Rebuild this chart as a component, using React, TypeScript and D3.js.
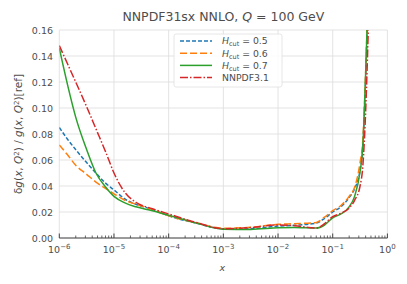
import React from "react";
import * as d3 from "d3";

const xLog = [-6, -5.85, -5.7, -5.5, -5.33, -5.15, -5.0, -4.8, -4.6, -4.3, -4.0, -3.5, -3.0, -2.5, -2.0, -1.7, -1.3, -1.15, -1.0, -0.85, -0.7, -0.6, -0.5, -0.45, -0.4, -0.35, -0.3, -0.25];
const hcut05 = [0.085, 0.076, 0.068, 0.058, 0.050, 0.042, 0.037, 0.030, 0.026, 0.022, 0.017, 0.0115, 0.007, 0.0072, 0.0092, 0.0098, 0.0115, 0.015, 0.020, 0.024, 0.031, 0.038, 0.052, 0.07, 0.12, 0.19, 0.27, 0.37];
const hcut06 = [0.0715, 0.064, 0.056, 0.049, 0.043, 0.038, 0.034, 0.029, 0.026, 0.022, 0.017, 0.0118, 0.0075, 0.0082, 0.0105, 0.011, 0.012, 0.016, 0.021, 0.025, 0.032, 0.039, 0.058, 0.075, 0.125, 0.195, 0.28, 0.38];
const hcut07 = [0.146, 0.118, 0.093, 0.068, 0.050, 0.039, 0.032, 0.027, 0.024, 0.021, 0.0175, 0.0115, 0.0068, 0.0066, 0.0078, 0.008, 0.0076, 0.010, 0.0155, 0.0185, 0.024, 0.032, 0.051, 0.07, 0.124, 0.19, 0.26, 0.36];
const nnpdf31 = [0.148, 0.134, 0.120, 0.101, 0.084, 0.066, 0.050, 0.035, 0.0275, 0.0225, 0.0185, 0.012, 0.0072, 0.008, 0.010, 0.0095, 0.0076, 0.011, 0.0165, 0.019, 0.023, 0.029, 0.040, 0.055, 0.095, 0.16, 0.25, 0.35];

const yTicks = [0, 0.02, 0.04, 0.06, 0.08, 0.1, 0.12, 0.14, 0.16];
const xTickExps = [-6, -5, -4, -3, -2, -1, 0];

const series = [
  { label: "0.5", values: hcut05, color: "#1f77b4", dash: "4,2" },
  { label: "0.6", values: hcut06, color: "#ff7f0e", dash: "7,3" },
  { label: "0.7", values: hcut07, color: "#2ca02c", dash: "" },
  { label: "NNPDF3.1", values: nnpdf31, color: "#d62728", dash: "8,2,1.5,2" },
];

const W = 407, H = 284;
const left = 59.3, right = 387.4, top = 30, bottom = 238;
const font = "DejaVu Sans, sans-serif";
const textCol = "#4d4d4d";

export default function App() {
  const x = d3.scaleLog().domain([1e-6, 1]).range([left, right]);
  const y = d3.scaleLinear().domain([0, 0.16]).range([bottom, top]);
  const line = d3.line<[number, number]>()
    .x(d => x(Math.pow(10, d[0])))
    .y(d => y(d[1]))
    .curve(d3.curveMonotoneX);

  const minor: number[] = [];
  for (let e = -6; e < 0; e++) for (let m = 2; m <= 9; m++) minor.push(m * Math.pow(10, e));

  const legendX = 174, legendY = 34;
  return (
    <svg width={W} height={H} style={{ position: "absolute", left: 0, top: 0, fontFamily: font }}>
      <rect x={0} y={0} width={W} height={H} fill="#fff" />
      <defs>
        <clipPath id="plotclip"><rect x={left} y={top} width={right - left} height={bottom - top} /></clipPath>
      </defs>
      {yTicks.map(t => (
        <line key={"gy" + t} x1={left} x2={right} y1={y(t)} y2={y(t)} stroke="#dcdcdc" strokeWidth={0.8} />
      ))}
      {xTickExps.map(e => (
        <line key={"gx" + e} x1={x(Math.pow(10, e))} x2={x(Math.pow(10, e))} y1={top} y2={bottom} stroke="#dcdcdc" strokeWidth={0.8} />
      ))}
      <g clipPath="url(#plotclip)">
        {series.map(s => (
          <path key={s.label} d={line(xLog.map((v, i) => [v, s.values[i]] as [number, number])) || ""}
            fill="none" stroke={s.color} strokeWidth={1.5} strokeDasharray={s.dash || undefined} />
        ))}
      </g>
      <line x1={left} x2={right} y1={bottom} y2={bottom} stroke="#444" strokeWidth={1} />
      {xTickExps.map(e => (
        <line key={"tx" + e} x1={x(Math.pow(10, e))} x2={x(Math.pow(10, e))} y1={bottom} y2={bottom - 4.5} stroke="#444" strokeWidth={1} />
      ))}
      {minor.map((m, i) => (
        <line key={"mx" + i} x1={x(m)} x2={x(m)} y1={bottom} y2={bottom - 2.5} stroke="#444" strokeWidth={0.8} />
      ))}
      {xTickExps.map(e => (
        <text key={"lx" + e} x={x(Math.pow(10, e))} y={253} textAnchor="middle" fontSize={9.5} fill={textCol}>
          10<tspan dy={-4} fontSize={7}>{e === 0 ? "0" : "\u2212" + Math.abs(e)}</tspan>
        </text>
      ))}
      {yTicks.map(t => (
        <text key={"ly" + t} x={53} y={y(t) + 3.5} textAnchor="end" fontSize={9.5} fill={textCol}>{t.toFixed(2)}</text>
      ))}
      <text x={(left + right) / 2} y={21} textAnchor="middle" fontSize={12.5} fill={textCol}>
        NNPDF31sx NNLO, <tspan fontStyle="italic">Q</tspan> = 100 GeV
      </text>
      <text x={(left + right) / 2 - 1} y={271} textAnchor="middle" fontSize={9.5} fill={textCol} fontStyle="italic">x</text>
      <text transform={`translate(22,${(top + bottom) / 2}) rotate(-90)`} textAnchor="middle" fontSize={10.5} fill={textCol}>
        δ<tspan fontStyle="italic">g</tspan>(<tspan fontStyle="italic">x</tspan>, <tspan fontStyle="italic">Q</tspan><tspan dy={-3.5} fontSize={7}>2</tspan><tspan dy={3.5}>) / </tspan><tspan fontStyle="italic">g</tspan>(<tspan fontStyle="italic">x</tspan>, <tspan fontStyle="italic">Q</tspan><tspan dy={-3.5} fontSize={7}>2</tspan><tspan dy={3.5}>)[ref]</tspan>
      </text>
      <rect x={legendX} y={legendY} width={108} height={53} rx={2} fill="#ffffff" fillOpacity={0.85} stroke="#e0e0e0" strokeWidth={0.8} />
      {series.map((s, i) => {
        const ly = legendY + 7 + i * 12.2;
        return (
          <g key={"lg" + s.label}>
            <line x1={180} x2={212} y1={ly} y2={ly} stroke={s.color} strokeWidth={1.5} strokeDasharray={s.dash || undefined} />
            {i < 3 ? (
              <text x={222} y={ly + 3.3} fontSize={9.3} fill={textCol}>
                <tspan fontStyle="italic">H</tspan><tspan dy={2} fontSize={6.5}>cut</tspan><tspan dy={-2}> = {s.label}</tspan>
              </text>
            ) : (
              <text x={222} y={ly + 3.3} fontSize={9.3} fill={textCol}>{s.label}</text>
            )}
          </g>
        );
      })}
    </svg>
  );
}
